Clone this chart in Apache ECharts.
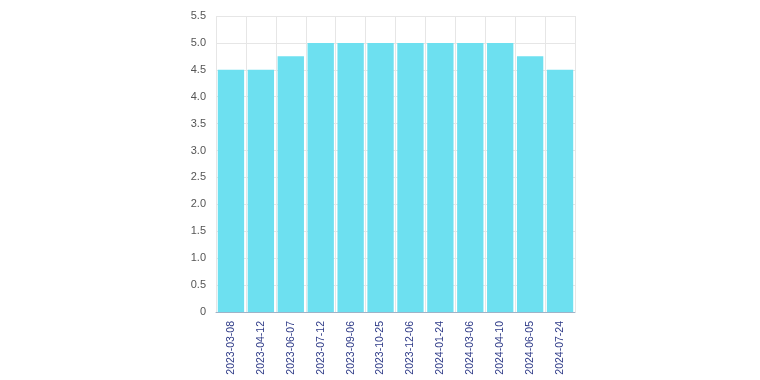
<!DOCTYPE html>
<html><head><meta charset="utf-8">
<script src="https://cdn.jsdelivr.net/npm/echarts@6/dist/echarts.min.js"></script>
<style>html,body{margin:0;padding:0;background:#fff}#c{width:760px;height:380px}</style>
</head><body><div id="c"></div>
<script>
var categories = ['2023-03-08','2023-04-12','2023-06-07','2023-07-12','2023-09-06','2023-10-25','2023-12-06','2024-01-24','2024-03-06','2024-04-10','2024-06-05','2024-07-24'];
var values = [4.5,4.5,4.75,5,5,5,5,5,5,5,4.75,4.5];
var chart = echarts.init(document.getElementById('c'));
chart.setOption({
  animation:false,
  grid:{left:216,right:185,top:16,bottom:68},
  xAxis:{type:'category',data:categories,
    axisLine:{lineStyle:{color:'#9fb3c8'}},
    axisTick:{show:false},
    splitLine:{show:true,lineStyle:{color:'#e6e6e6'}},
    axisLabel:{rotate:90,color:'#2e3a87',fontSize:10.5,fontFamily:'Arial',margin:9,interval:0}},
  yAxis:{type:'value',min:0,max:5.5,interval:0.5,
    axisLine:{show:false},axisTick:{show:false},
    splitLine:{lineStyle:{color:'#e6e6e6'}},
    axisLabel:{color:'#555',fontSize:11,fontFamily:'Arial',margin:10,
      formatter:function(v){return v===0?'0':v.toFixed(1);}}},
  series:[{type:'bar',data:values,barCategoryGap:'12%',itemStyle:{color:'#6de0f0'}}]
});
</script></body></html>
